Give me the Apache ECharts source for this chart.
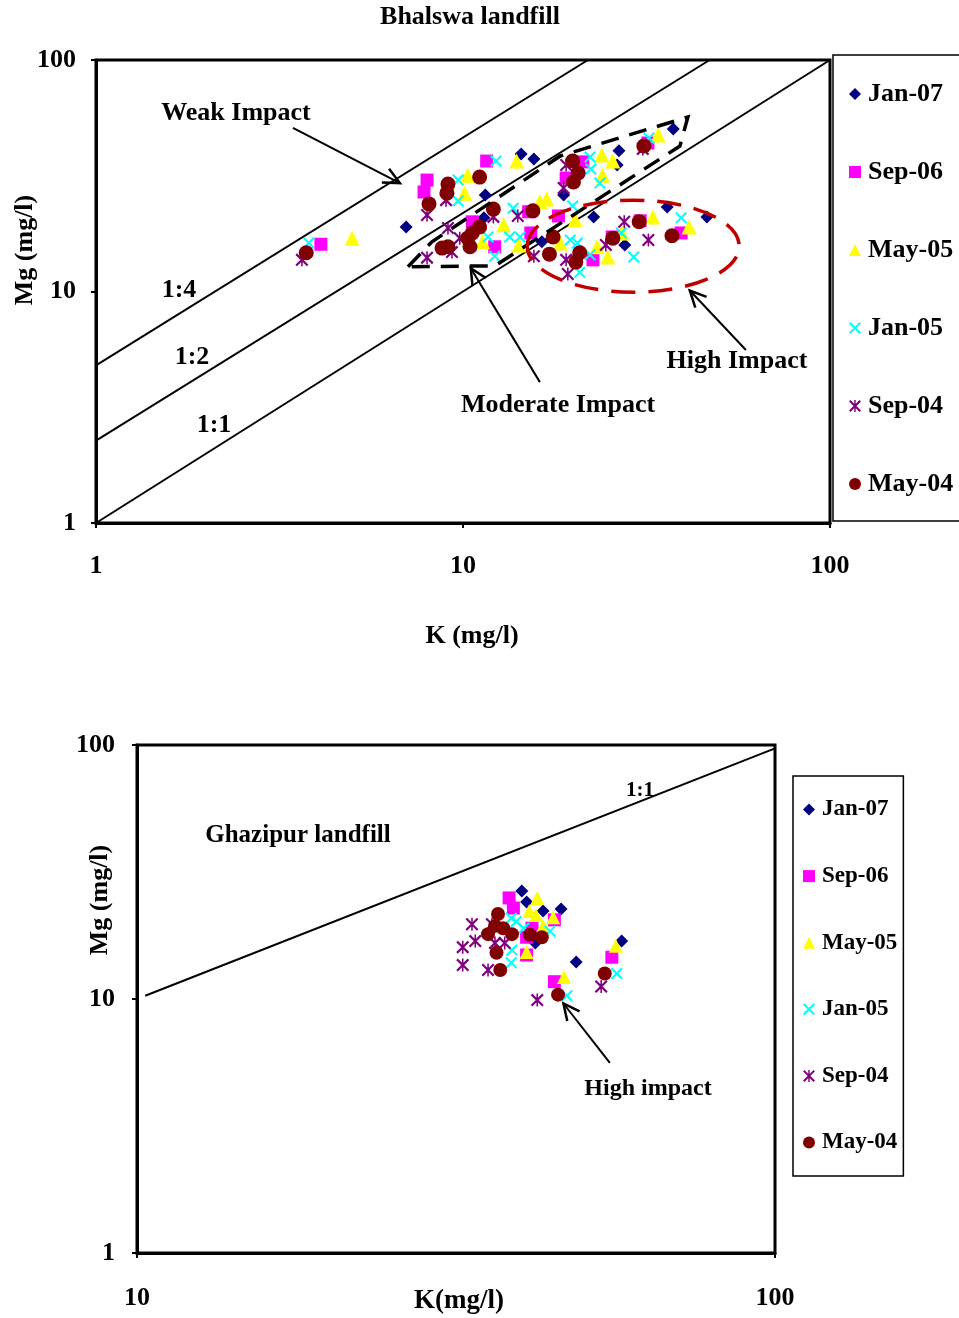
<!DOCTYPE html>
<html>
<head>
<meta charset="utf-8">
<script src="https://cdn.jsdelivr.net/npm/echarts/dist/echarts.min.js"></script>
<style>
  html, body { margin: 0; padding: 0; background: #fff; }
  #chart { width: 959px; height: 1318px; }
</style>
</head>
<body>
<div id="chart"></div>
<script>
// series names + colours (legend order)
const seriesNames = ["Jan-07", "Sep-06", "May-05", "Jan-05", "Sep-04", "May-04"];
const seriesColors = ["#000080", "#FF00FF", "#FFFF00", "#00FFFF", "#800080", "#800000"];

// Bhalswa landfill: [K, Mg] in mg/l
const bhalswaJan07 = [[7.0,19.0],[11.5,26.1],[11.4,20.8],[14.4,39.3],[15.6,37.4],[18.8,26.1],[22.7,21.0],[26.6,40.5],[26.3,35.2],[37.4,50.3],[36.0,23.2],[46.2,21.0],[27.6,15.9],[16.4,16.4]];
const bhalswaSep06 = [[4.1,16.0],[7.98,30.3],[7.83,26.9],[11.6,36.6],[10.6,20.0],[12.2,15.6],[15.1,22.1],[15.3,17.9],[18.2,21.2],[19.1,30.9],[21.2,36.3],[25.5,17.2],[22.6,13.7],[31.9,43.8],[30.4,20.2],[39.3,17.9]];
const bhalswaMay05 = [[4.99,17.0],[10.3,31.8],[10.1,26.6],[14.0,36.6],[16.2,24.4],[16.9,25.1],[12.9,19.4],[11.3,16.4],[14.2,15.9],[20.2,20.4],[23.9,38.9],[25.6,36.6],[24.0,31.8],[34.0,47.4],[32.9,21.0],[41.3,19.0],[23.2,15.6],[24.8,14.1],[27.1,17.9],[18.4,16.2]];
const bhalswaJan05 = [[3.8,16.2],[9.7,30.3],[9.7,24.6],[12.3,36.6],[22.2,38.1],[22.3,33.8],[23.6,29.4],[32.1,46.0],[13.7,22.9],[11.7,17.2],[13.4,17.2],[14.3,17.2],[12.2,14.2],[19.9,23.4],[19.6,16.7],[20.5,16.2],[22.2,14.4],[20.8,12.1],[29.2,14.1],[27.0,17.9],[39.3,20.8]];
const bhalswaSep04 = [[3.64,13.7],[7.98,21.4],[9.1,18.8],[7.98,14.0],[8.99,24.8],[9.33,14.8],[9.8,17.0],[12.1,21.0],[14.1,21.2],[19.1,35.2],[18.8,28.0],[30.9,41.3],[15.6,14.2],[19.1,13.7],[19.3,11.9],[27.5,20.0],[32.0,16.7],[24.5,15.9]];
const bhalswaMay04 = [[3.74,14.7],[8.08,23.9],[9.1,29.1],[9.04,26.6],[11.1,31.2],[12.1,22.7],[8.77,15.4],[9.1,15.6],[10.3,17.0],[10.6,17.9],[11.1,19.0],[10.45,15.6],[15.5,22.3],[17.6,17.2],[17.2,14.5],[20.8,14.7],[20.3,13.4],[19.9,36.6],[20.6,32.5],[20.0,29.7],[31.1,42.5],[30.2,20.0],[25.6,17.0],[37.1,17.4]];

// Ghazipur landfill
const ghazipurJan07 = [[40.1,26.6],[40.8,24.1],[43.3,22.2],[46.2,22.6],[42.1,16.6],[48.8,14.0],[57.5,16.9]];
const ghazipurSep06 = [[38.3,25.0],[38.9,22.8],[40.8,17.5],[40.8,14.9],[45.1,20.5],[45.1,11.7],[55.5,14.6],[41.6,19.0]];
const ghazipurMay05 = [[42.4,25.0],[41.2,22.2],[42.2,21.4],[44.9,21.0],[43.3,19.4],[40.8,15.3],[46.7,12.2],[56.3,16.2]];
const ghazipurJan05 = [[38.6,20.8],[39.3,20.2],[40.4,19.0],[44.4,18.5],[38.7,15.6],[38.6,13.9],[47.2,10.3],[56.5,12.6]];
const ghazipurSep04 = [[33.5,19.7],[33.9,16.9],[32.4,16.0],[32.4,13.6],[35.5,13.0],[36.4,16.6],[37.7,16.6],[36.0,19.7],[42.4,9.9],[53.4,11.2]];
const ghazipurMay04 = [[36.8,21.6],[35.5,18.0],[36.4,19.4],[37.5,19.0],[38.7,18.0],[41.3,17.9],[43.1,17.5],[36.6,15.2],[37.1,13.0],[45.7,10.4],[54.1,12.6]];

// ratio lines
const bhalswaLine11 = [[1, 1], [100, 100]];
const bhalswaLine12 = [[1, 2.27], [47, 100]];
const bhalswaLine14 = [[1, 4.8], [21.9, 100]];
const ghazipurLine11 = [[10.3, 10.3], [100, 97]];

// annotation anchors (data space)
const moderateZone = [[7.08,12.8],[8.23,16.4],[18.4,38.5],[41.0,56.7],[39.0,42.5],[12.2,12.9],[7.08,12.8]];
const highZoneCenter = [29.1, 15.7];
const weakArrow = [[3.44,50.9],[6.73,29.4]];
const highArrow = [[59.0,5.59],[41.5,10.1]];
const moderateArrow = [[16.2,4.06],[10.5,12.6]];
const ghazipurHighArrow = [[55.1,5.6],[46.6,9.6]];

const crossPath = "path://M0,1.2L1.2,0L10,8.8L8.8,10Z M8.8,0L10,1.2L1.2,10L0,8.8Z";
const starPath = "path://M0,1.2L1.2,0L10,8.8L8.8,10Z M8.8,0L10,1.2L1.2,10L0,8.8Z M4.4,0L5.6,0L5.6,10L4.4,10Z";
const symbols = ["diamond", "rect", "triangle", crossPath, starPath, "circle"];
const topSizes = [13, 13, 15, 12, 13, 15];
const bottomSizes = [13, 13, 14, 12, 13, 14];

const serif = '"Liberation Serif", "Times New Roman", serif';

const chart = echarts.init(document.getElementById("chart"));

function scatterSeries(datasets, gi, sizes) {
  return datasets.map((d, i) => ({
    name: seriesNames[i],
    type: "scatter",
    xAxisIndex: gi,
    yAxisIndex: gi,
    data: d,
    symbol: symbols[i],
    symbolSize: sizes[i],
    itemStyle: { color: seriesColors[i], opacity: 1 },
    z: 3,
  }));
}

function ratioLine(d, gi) {
  return {
    type: "line",
    name: "ratio",
    xAxisIndex: gi,
    yAxisIndex: gi,
    data: d,
    symbol: "none",
    silent: true,
    lineStyle: { color: "#000", width: 2 },
    z: 2,
  };
}

function axisCommon(extra) {
  return Object.assign({
    type: "log",
    logBase: 10,
    splitLine: { show: false },
    minorTick: { show: false },
    axisLine: { show: true, lineStyle: { color: "#000", width: 3 } },
    axisTick: { show: true, length: 5, lineStyle: { color: "#000", width: 2 } },
  }, extra);
}

function labelStyle(margin, size) {
  return { margin: margin, fontSize: size, fontWeight: "bold", fontFamily: serif, color: "#000" };
}

function legendOf(left, top, pad, gap, size) {
  return {
    orient: "vertical",
    left: left,
    top: top,
    padding: pad,
    itemGap: gap,
    itemWidth: 12,
    itemHeight: 12,
    borderColor: "#000",
    borderWidth: 1.5,
    selectedMode: false,
    textStyle: { fontSize: size, fontWeight: "bold", fontFamily: serif, color: "#000", padding: [0, 0, 0, 2] },
    data: seriesNames.map((n, i) => ({ name: n, icon: symbols[i] })),
  };
}

const option = {
  backgroundColor: "#fff",
  animation: false,
  grid: [
    { left: 96, top: 60, width: 734, height: 463, show: true, borderColor: "#000", borderWidth: 3, containLabel: false, outerBoundsMode: "none" },
    { left: 137, top: 745, width: 638, height: 508, show: true, borderColor: "#000", borderWidth: 3, containLabel: false, outerBoundsMode: "none" },
  ],
  xAxis: [
    axisCommon({ gridIndex: 0, min: 1, max: 100, axisLabel: labelStyle(30, 26) }),
    axisCommon({ gridIndex: 1, min: 10, max: 100, axisLabel: labelStyle(32, 26) }),
  ],
  yAxis: [
    axisCommon({ gridIndex: 0, min: 1, max: 100, axisLabel: labelStyle(20, 26) }),
    axisCommon({ gridIndex: 1, min: 1, max: 100, axisLabel: labelStyle(22, 26) }),
  ],
  legend: [
    legendOf(833, 55, [26, 8, 24, 16], 52, 26),
    legendOf(793, 776, [22, 6, 22, 10], 43.6, 23),
  ],
  series: [
    ratioLine(bhalswaLine11, 0),
    ratioLine(bhalswaLine12, 0),
    ratioLine(bhalswaLine14, 0),
    ratioLine(ghazipurLine11, 1),
  ]
    .concat(scatterSeries([bhalswaJan07, bhalswaSep06, bhalswaMay05, bhalswaJan05, bhalswaSep04, bhalswaMay04], 0, topSizes))
    .concat(scatterSeries([ghazipurJan07, ghazipurSep06, ghazipurMay05, ghazipurJan05, ghazipurSep04, ghazipurMay04], 1, bottomSizes)),
};

chart.setOption(option);

// ---- annotations, placed through the axes ----
const toPx = (gi, p) => chart.convertToPixel({ gridIndex: gi }, p);

function arrow(gi, pts) {
  const a = toPx(gi, pts[0]);
  const b = toPx(gi, pts[1]);
  const ang = Math.atan2(b[1] - a[1], b[0] - a[0]);
  const L = 18, spread = Math.PI / 7;
  const p1 = [b[0] - L * Math.cos(ang - spread), b[1] - L * Math.sin(ang - spread)];
  const p2 = [b[0] - L * Math.cos(ang + spread), b[1] - L * Math.sin(ang + spread)];
  return [
    { type: "line", z: 10, shape: { x1: a[0], y1: a[1], x2: b[0], y2: b[1] }, style: { stroke: "#000", lineWidth: 2 } },
    { type: "polyline", z: 10, shape: { points: [p1, b, p2] }, style: { stroke: "#000", lineWidth: 2.5, fill: null } },
  ];
}

function label(text, x, y, size, rot) {
  return {
    type: "text",
    x: x,
    y: y,
    rotation: rot || 0,
    z: 10,
    style: {
      text: text,
      font: "bold " + size + "px " + serif,
      fill: "#000",
      align: "center",
      verticalAlign: "middle",
      textAlign: "center",
      textVerticalAlign: "middle",
    },
  };
}

const hc = toPx(0, highZoneCenter);
const graphics = [
  label("Bhalswa landfill", 470, 17, 26),
  label("Weak Impact", 236, 113, 26),
  label("1:4", 179, 290, 26),
  label("1:2", 192, 357, 26),
  label("1:1", 214, 425, 26),
  label("High Impact", 737, 361, 26),
  label("Moderate Impact", 558, 405, 26),
  label("K (mg/l)", 472, 636, 26),
  label("Mg (mg/l)", 25, 250, 26, Math.PI / 2),
  label("Ghazipur landfill", 298, 836, 25),
  label("1:1", 640, 791, 21),
  label("High impact", 648, 1089, 24),
  label("Mg (mg/l)", 100, 900, 26, Math.PI / 2),
  label("K(mg/l)", 459, 1301, 27),
  {
    type: "polygon",
    z: 9,
    shape: { points: moderateZone.map((p) => toPx(0, p)) },
    style: { fill: null, stroke: "#000", lineWidth: 3.5, lineDash: [18, 11] },
  },
  {
    type: "ellipse",
    z: 9,
    shape: { cx: hc[0], cy: hc[1], rx: 106, ry: 46 },
    style: { fill: null, stroke: "#C00000", lineWidth: 3.5, lineDash: [24, 13] },
  },
]
  .concat(arrow(0, weakArrow))
  .concat(arrow(0, highArrow))
  .concat(arrow(0, moderateArrow))
  .concat(arrow(1, ghazipurHighArrow));

chart.setOption({ graphic: graphics });
</script>
</body>
</html>
